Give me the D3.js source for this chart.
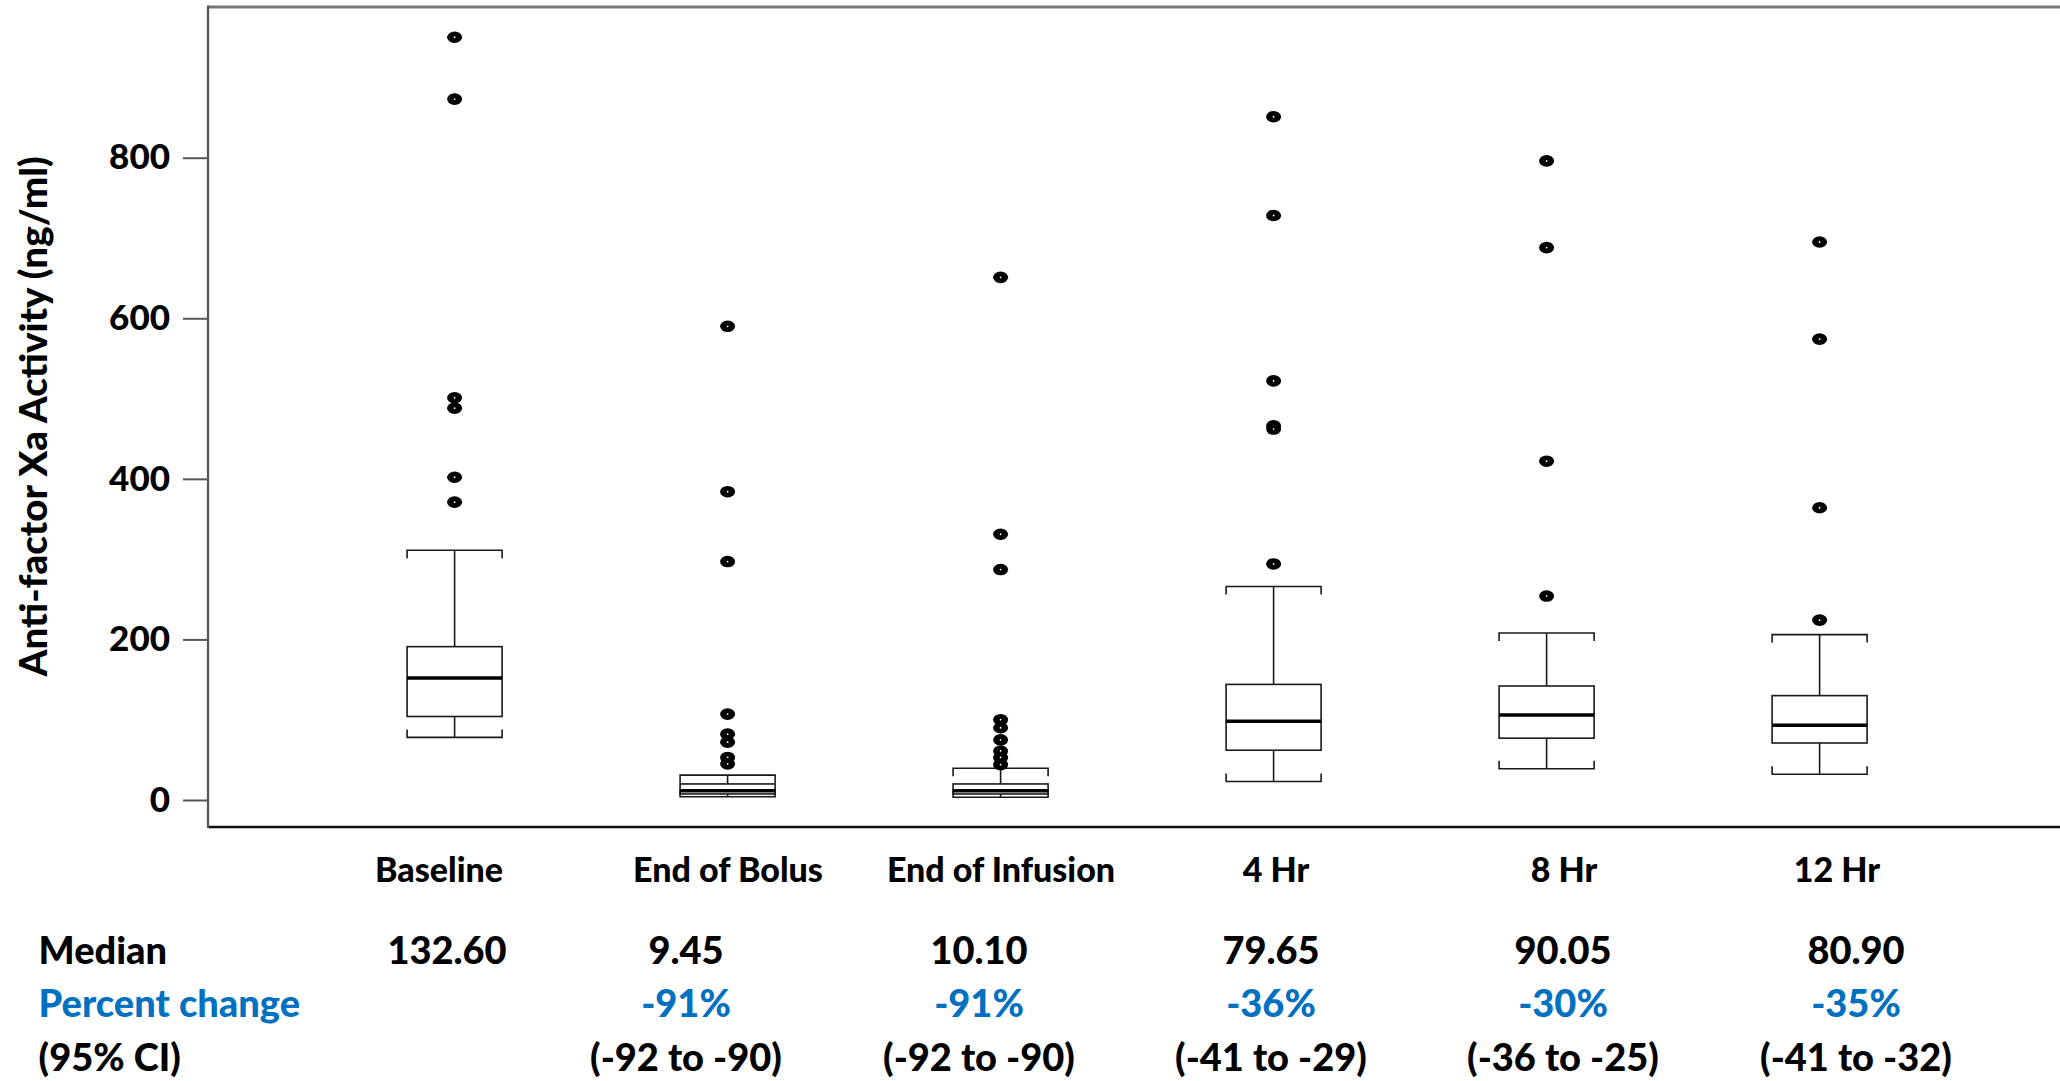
<!DOCTYPE html>
<html><head><meta charset="utf-8">
<script src="https://cdn.jsdelivr.net/npm/d3@7"></script>
<style>
html,body{margin:0;padding:0;background:#fff;}
svg{display:block;}
text{font-family:Lato,"Open Sans",sans-serif;font-weight:900;fill:#000;}
</style></head><body>
<svg id="chart" width="2060" height="1081"></svg>
<script>
// ---- data ----
const categories = ["Baseline","End of Bolus","End of Infusion","4 Hr","8 Hr","12 Hr"];
const whiskerLow  = [78, 4, 3.5, 23, 39, 32];
const q1          = [104, 7.5, 7.5, 62, 77, 71];
const median      = [152, 11.6, 11.6, 98, 106, 93];
const q3          = [191, 20, 20, 144, 142, 130];
const whiskerHigh = [311, 31, 39.5, 266, 208, 206];
const outliers = [
  [950, 873, 501, 488, 402, 371],
  [590, 384, 297, 107, 82, 72, 53, 45],
  [651, 331, 287, 100, 90, 75, 61, 53, 44],
  [851, 728, 522, 466, 462, 294],
  [796, 688, 422, 254],
  [695, 574, 364, 224]
];
const yTicks = [0, 200, 400, 600, 800];
const yTitle = "Anti-factor Xa Activity (ng/ml)";
const rowLabels = ["Median", "Percent change", "(95% CI)"];
const medianLabels = ["132.60", "9.45", "10.10", "79.65", "90.05", "80.90"];
const pctChange = ["", "-91%", "-91%", "-36%", "-30%", "-35%"];
const ciLabels = ["", "(-92 to -90)", "(-92 to -90)", "(-41 to -29)", "(-36 to -25)", "(-41 to -32)"];

// ---- layout ----
const plot = {left: 208, top: 7, bottom: 827, right: 2060};
const boxW = 95, capEnd = 8;
const catLabelX = [439, 728, 1001, 1276, 1564, 1837];
const tableColX = [447, 686, 979, 1271, 1563, 1856];
const blue = "#0070C0";
const FONT = "Lato, 'Open Sans', sans-serif";

const svg = d3.select("#chart");
const y = d3.scaleLinear().domain([0, 800]).range([800, 157.7]);
const x = d3.scalePoint().domain(categories).range([454.6, 1819.6]);

// frame
svg.append("line").attr("x1", plot.left).attr("x2", plot.right).attr("y1", plot.top).attr("y2", plot.top)
  .attr("stroke", "#777").attr("stroke-width", 3);
svg.append("line").attr("x1", plot.left).attr("x2", plot.right).attr("y1", plot.bottom).attr("y2", plot.bottom)
  .attr("stroke", "#111").attr("stroke-width", 2.5);
svg.append("line").attr("x1", plot.left).attr("x2", plot.left).attr("y1", plot.top - 1.5).attr("y2", plot.bottom + 1)
  .attr("stroke", "#555").attr("stroke-width", 2.2);

// y axis
const yAxis = d3.axisLeft(y).tickValues(yTicks).tickSize(25).tickPadding(13).tickFormat(d3.format("d"));
const ga = svg.append("g").attr("transform", `translate(${plot.left},0)`).call(yAxis);
ga.select(".domain").remove();
ga.selectAll(".tick line").attr("stroke", "#555").attr("stroke-width", 2);
ga.selectAll(".tick text").attr("font-family", FONT).attr("font-weight", 900)
  .attr("font-size", 35).attr("fill", "#000");

// y title
svg.append("text").attr("transform", `translate(47,416.5) rotate(-90)`).attr("text-anchor", "middle")
  .attr("font-size", 38.5).text(yTitle);

// boxes
const stats = categories.map((c, i) => ({c, lo: whiskerLow[i], q1: q1[i], med: median[i], q3: q3[i], hi: whiskerHigh[i], out: outliers[i]}));
const g = svg.append("g").attr("fill", "none").attr("stroke", "#1a1a1a").attr("stroke-width", 1.6);
stats.forEach(s => {
  const cx = x(s.c), l = cx - boxW / 2, r = cx + boxW / 2;
  g.append("line").attr("x1", cx).attr("x2", cx).attr("y1", y(s.q3)).attr("y2", y(s.hi));
  g.append("line").attr("x1", cx).attr("x2", cx).attr("y1", y(s.q1)).attr("y2", y(s.lo));
  g.append("path").attr("d", `M${l},${y(s.hi) + capEnd}V${y(s.hi)}H${r}V${y(s.hi) + capEnd}`);
  g.append("path").attr("d", `M${l},${y(s.lo) - capEnd}V${y(s.lo)}H${r}V${y(s.lo) - capEnd}`);
  g.append("rect").attr("x", l).attr("y", y(s.q3)).attr("width", boxW).attr("height", y(s.q1) - y(s.q3))
    .attr("fill", "#fff");
  g.append("line").attr("x1", l).attr("x2", r).attr("y1", y(s.med)).attr("y2", y(s.med)).attr("stroke-width", 3.5)
    .attr("stroke", "#000");
  s.out.forEach(v => {
    svg.append("ellipse").attr("cx", cx).attr("cy", y(v)).attr("rx", 7.5).attr("ry", 5.8).attr("fill", "#000");
    svg.append("circle").attr("cx", cx).attr("cy", y(v)).attr("r", 0.9).attr("fill", "#fff");
  });
});

// category labels
svg.append("g").selectAll("text").data(categories).join("text")
  .attr("x", (d, i) => catLabelX[i]).attr("y", 882).attr("text-anchor", "middle").attr("font-size", 34).text(d => d);

// table
const rowsY = [964, 1017, 1071];
svg.append("g").selectAll("text").data(rowLabels).join("text")
  .attr("x", 38.6).attr("y", (d, i) => rowsY[i]).attr("font-size", 38)
  .style("fill", (d, i) => i === 1 ? blue : "#000").text(d => d);
[medianLabels, pctChange, ciLabels].forEach((row, ri) => {
  svg.append("g").selectAll("text").data(row).join("text")
    .attr("x", (d, i) => tableColX[i]).attr("y", rowsY[ri]).attr("text-anchor", "middle").attr("font-size", 38)
    .style("fill", ri === 1 ? blue : "#000").text(d => d);
});
</script>
</body></html>
